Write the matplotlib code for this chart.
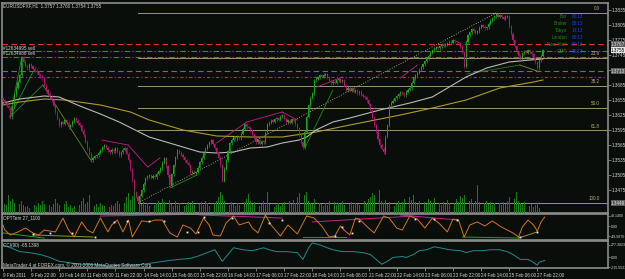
import numpy as np
import matplotlib
matplotlib.use("Agg")
import matplotlib.pyplot as plt
import matplotlib.transforms as mtransforms

plt.rcParams["font.family"] = ["Liberation Sans", "DejaVu Sans"]

W, H = 625, 279
BG = "#0a0e0a"
FRAME = "#8c8c8c"
TXT = "#d4d4d4"

# EURUSDFXF H1 closes, in pips above PRICE_ZERO
PRICE_ZERO = 1.3422
close_pips = [
    233, 228, 222, 217, 199, 221, 243, 258, 270, 283,
    319, 310, 302, 297, 305, 301, 296, 292, 289, 284,
    281, 277, 262, 253, 246, 240, 233, 222, 209, 196,
    183, 189, 186, 193, 188, 179, 183, 190, 197, 192,
    187, 183, 172, 163, 150, 137, 126, 113, 118, 121,
    123, 128, 133, 139, 143, 138, 133, 129, 134, 131,
    137, 130, 123, 129, 134, 137, 126, 113, 95, 73,
    49, 40, 31, 42, 53, 66, 77, 81, 83, 78,
    82, 79, 86, 91, 97, 108, 117, 101, 83, 63,
    85, 103, 119, 133, 128, 124, 119, 113, 108, 103,
    87, 90, 86, 89, 98, 109, 118, 127, 136, 143,
    149, 153, 145, 137, 129, 118, 103, 72, 96, 113,
    131, 147, 154, 159, 155, 160, 157, 166, 176, 185,
    179, 178, 173, 165, 157, 149, 153, 146, 151, 149,
    168, 185, 188, 192, 190, 195, 197, 194, 200, 203,
    196, 189, 192, 188, 195, 193, 185, 177, 163, 149,
    139, 170, 200, 223, 238, 247, 273, 276, 279, 283,
    280, 284, 285, 278, 272, 267, 270, 268, 273, 275,
    270, 273, 262, 253, 258, 252, 257, 250, 253, 247,
    250, 244, 241, 239, 233, 225, 213, 198, 183, 170,
    155, 143, 136, 129, 160, 183, 223, 228, 232, 237,
    241, 245, 249, 246, 243, 250, 254, 257, 268, 277,
    283, 288, 294, 299, 305, 311, 317, 322, 328, 333,
    336, 339, 337, 341, 344, 342, 345, 347, 350, 348,
    353, 351, 349, 347, 340, 329, 300, 350, 363, 369,
    375, 372, 368, 371, 378, 383, 380, 377, 379, 386,
    392, 397, 401, 405, 400, 403, 399, 396, 400, 401,
    381, 366, 353, 341, 329, 322, 317, 327, 330, 328,
    333, 329, 325, 317, 309, 297, 313, 322, 333,
]

volume = [
    6, 9, 8, 18, 12, 14, 10, 8, 7, 9,
    12, 8, 6, 7, 5, 9, 6, 8, 7, 10,
    8, 12, 9, 7, 11, 8, 6, 9, 14, 10,
    8, 11, 7, 9, 12, 6, 8, 5, 7, 9,
    10, 8, 12, 15, 9, 11, 18, 12, 8, 7,
    9, 6, 10, 8, 7, 9, 11, 6, 8, 7,
    10, 12, 9, 14, 8, 10, 16, 20, 13, 17,
    22, 14, 19, 12, 9, 11, 8, 10, 7, 9,
    6, 8, 10, 12, 9, 14, 11, 16, 10, 13,
    9, 7, 12, 8, 10, 6, 9, 7, 8, 11,
    9, 12, 8, 10, 14, 9, 11, 8, 12, 10,
    7, 9, 13, 10, 12, 16, 21, 18, 12, 15,
    10, 8, 11, 9, 7, 10, 8, 12, 9, 11,
    14, 19, 12, 9, 11, 8, 10, 7, 9, 12,
    8, 21, 9, 7, 11, 6, 8, 10, 7, 9,
    11, 8, 10, 12, 9, 13, 10, 16, 20, 14,
    14, 18, 21, 12, 10, 9, 14, 11, 8, 10,
    9, 7, 10, 8, 12, 9, 7, 11, 8, 10,
    9, 12, 8, 10, 7, 9, 11, 8, 10, 9,
    8, 11, 9, 12, 10, 14, 16, 20, 18, 22,
    15, 23, 12, 10, 13, 9, 11, 8, 10, 7,
    9, 12, 8, 11, 14, 10, 12, 16, 13, 18,
    11, 9, 12, 10, 8, 11, 9, 14, 12, 10,
    15, 26, 12, 10, 8, 11, 9, 13, 10, 8,
    12, 10, 14, 11, 17, 15, 18, 20, 16, 12,
    14, 10, 12, 28, 11, 13, 8, 10, 12, 9,
    11, 8, 10, 9, 7, 10, 8, 11, 9, 12,
    16, 12, 18, 14, 21, 12, 10, 9, 11, 8,
    10, 7, 9, 6, 8, 10, 5, 4, 3,
]

# moving averages (sampled points)
gray_ma_bar = [0, 9, 22, 30, 41, 52, 62, 78, 96, 105, 114, 123, 132, 141, 149,
               158, 162, 167, 176, 185, 201, 217, 229, 247, 258, 270, 281, 288]
gray_ma_pips = [227, 235, 241, 239, 221, 205, 189, 159, 139, 129, 127, 129, 137, 139, 147,
                153, 159, 173, 189, 197, 213, 227, 239, 279, 297, 309, 313, 315]
gold_ma_bar = [0, 9, 22, 33, 52, 68, 78, 96, 114, 132, 149, 167, 185, 212, 229, 247, 265, 283, 288]
gold_ma_pips = [223, 229, 235, 233, 223, 209, 193, 173, 161, 159, 159, 169, 183, 203, 217, 233, 257, 269, 273]

# fibonacci retracement
fib_start_bar = 72
fib_end_bar = 263
fib_low = 1.3449
fib_high = 1.3829
fib_levels = [0.0, 23.6, 38.2, 50.0, 61.8, 100.0]

# horizontal order / level lines
hlines = [
    (1.3767, "#e03030", (0, (5, 3))),
    (1.3754, "#1c9a1c", (0, (5, 2, 1, 2))),
    (1.3742, "#1c9a1c", (0, (5, 2, 1, 2))),
    (1.3713, "#6e6e6e", (0, (5, 3))),
    (1.3701, "#9030b0", (0, (3, 2, 1, 2))),
]
order_labels = ["#12634995 sell", "#12634988 sell"]

# drawn trend lines: (bar0, pips0, bar1, pips1, color, style)
trend_lines = [
    (3.7, 199, 10.1, 319, "#1f8a1f", "-"),
    (3.7, 199, 16, 289, "#1f8a1f", "-"),
    (3.7, 199, 21.3, 263, "#1f8a1f", "-"),
    (21.3, 263, 47.5, 109, "#5f8a20", "-"),
    (52.8, 153, 66.7, 143, "#c0208a", "-"),
    (66.7, 143, 77.3, 99, "#c0208a", "-"),
    (77.3, 99, 83.7, 117, "#c0208a", "-"),
    (114, 147, 130, 189, "#c0208a", "-"),
    (130, 189, 149, 209, "#c0208a", "-"),
    (149, 209, 157, 193, "#c0208a", "-"),
    (167.5, 259, 181, 279, "#c0208a", "-"),
    (212, 277, 221, 303, "#c0208a", "-"),
    (89, 57, 103.5, 83, "#1f8a1f", "-"),
    (161, 137, 176, 253, "#1f8a1f", "-"),
    (247.5, 285, 275.7, 303, "#1f7a1f", "-"),
    (275.7, 303, 284.8, 291, "#8a8a20", "-"),
]

# OPT oscillator
opt_bar = [0, 1, 4, 8, 12, 16, 19, 22, 28, 32, 35, 38, 42, 45, 48, 52, 56, 58, 61, 64,
           67, 69, 74, 78, 81, 85, 89, 93, 96, 100, 103, 107, 110, 112, 116, 119, 123, 126,
           131, 133, 136, 140, 143, 148, 152, 157, 162, 166, 170, 174, 177, 180, 182, 185,
           188, 190, 195, 198, 203, 206, 210, 213, 217, 221, 225, 229, 233, 237, 240, 243,
           246, 249, 253, 257, 261, 265, 269, 272, 275, 277, 280, 283, 285, 287, 289]
opt_val = [5, -20, -44, -29, -10, -34, -44, -20, -29, 39, -20, -54, 20, -20, -34, 39, -29, 5, 29, -29,
           29, -54, 25, 20, 29, 29, -34, -54, 5, -10, -39, 39, 5, -44, -49, 15, 49, 5,
           20, -10, -34, 54, 5, -49, 5, -39, 49, 39, 0, -54, -49, 0, -20, -44,
           39, 34, -10, -34, 49, 39, -10, -20, 49, 34, -10, 39, 10, -29, 34, 29,
           -54, 5, 20, 0, 25, 0, -20, -34, -54, -5, 29, 5, -25, 20, 44]
opt_lines = [
    (52, 49, 112, 59, "#c0208a"),
    (105, 54, 149, 39, "#c0208a"),
    (165, 20, 219, 49, "#c0208a"),
    (212, 54, 243, 29, "#c0208a"),
    (0, -34, 22, -59, "#20a020"),
    (16, -44, 48, -54, "#8a9a20"),
    (160, -54, 183, -54, "#20a020"),
    (245, -54, 275, -59, "#20a020"),
    (275, -59, 285, -29, "#8a9a20"),
]
opt_mark_bar = [16, 25, 37, 49, 59, 66, 78, 86, 98, 104, 107, 122, 142, 149,
                177, 181, 186, 190, 220, 230, 242, 276, 285]
opt_mark_val = [-39, -34, -34, -54, 20, 25, 25, 25, -29, -29, 44, 39, 15, 29,
                -49, -5, -34, 25, 34, 34, 29, -54, -29]

# CCI
cci_bar = [0, 4, 9, 14, 20, 25, 30, 34, 41, 46, 52, 57, 62, 69, 75, 82, 89, 94, 100, 105,
           109, 113, 117, 120, 123, 128, 133, 139, 142, 146, 151, 157, 160, 163, 165, 169,
           173, 176, 181, 187, 192, 196, 199, 202, 205, 208, 213, 215, 219, 222, 226, 230,
           233, 238, 244, 247, 251, 256, 260, 265, 269, 272, 276, 280, 282, 285, 286, 289]
cci_val = [277, 213, 128, 107, 64, 0, -85, -107, -149, -149, -170, -192, -170, -170, -149, -107,
           -64, -43, -21, 43, 107, 170, -85, 64, 213, 170, 149, 213, 170, 128, 128, 107, -43,
           213, 320, 277, 213, 170, 128, 128, 107, 64, -43, -149, -85, 0, 21, 0, 64, 149,
           170, 234, 213, 170, 149, 107, 149, 149, 170, 170, 128, 64, -43, -43, -85, -170,
           -107, -64]

price_ticks = [1.3475, 1.3505, 1.3535, 1.3565, 1.3595, 1.3625, 1.3655, 1.3685,
               1.3715, 1.3745, 1.3775, 1.3805, 1.3835]
opt_ticks = [49.14, 0, -49.587]
opt_tick_labels = ["49.1400", "0.00", "-49.5870"]
cci_ticks = [277.3823, 0, -215.5523]
cci_tick_labels = ["277.3823", "0.00", "-215.5523"]
time_tick_bars = [0, 15, 30, 45, 60, 75, 90, 105, 120, 135, 150, 165, 180, 195, 210,
                  225, 240, 255, 270, 285]
time_labels = ["9 Feb 2011", "9 Feb 22:00", "10 Feb 14:00", "11 Feb 06:00", "11 Feb 22:00",
               "14 Feb 14:00", "15 Feb 06:00", "15 Feb 22:00", "16 Feb 14:00", "17 Feb 06:00",
               "17 Feb 22:00", "18 Feb 14:00", "21 Feb 06:00", "21 Feb 22:00", "22 Feb 14:00",
               "23 Feb 06:00", "23 Feb 22:00", "24 Feb 14:00", "25 Feb 06:00", "27 Feb 22:00"]
clock_names = ["Bar", "Broker", "Tokyo", "London", "New York", "GMT"]
clock_times = ["00:13", "05:13", "14:13", "05:13", "00:13", "05:13"]

FS = 3.3
FS_SUB = 2.6


def to_price(p):
    return PRICE_ZERO + np.asarray(p, dtype=float) / 10000.0


def px_axes(fig, x0, y0, x1, y1):
    ax = fig.add_axes([x0 / W, 1 - y1 / H, (x1 - x0) / W, (y1 - y0) / H])
    ax.set_facecolor(BG)
    for s in ax.spines.values():
        s.set_color(FRAME)
        s.set_linewidth(1.2)
    return ax


def ptext(fig, x, y, s, **kw):
    kw.setdefault("color", TXT)
    kw.setdefault("fontsize", FS)
    kw.setdefault("va", "center")
    fig.text(x / W, 1 - y / H, s, **kw)


fig = plt.figure(figsize=(W / 100, H / 100), dpi=100, facecolor=BG)

n = len(close_pips)
bars = np.arange(n)
xlim = (-0.5, 322.7)

# ---------------- main price window ----------------
ax = px_axes(fig, 2, 3, 608, 213)
ax.set_xlim(*xlim)
ax.set_ylim(1.3429, 1.3849)

c = to_price(close_pips)
o = np.concatenate([[c[0] + 0.0004], c[:-1]])
hi = np.maximum(o, c) + 0.0003
lo = np.minimum(o, c) - 0.0003
up = c >= o
cols = np.where(up, "#19a519", "#b0166a")

# volume on its own scale at the bottom of the window
axv = ax.twinx()
axv.set_ylim(0, 210)
axv.set_yticks([])
axv.bar(bars, volume, width=0.4, color="#1c7a1c", linewidth=0, zorder=1)
for s in axv.spines.values():
    s.set_visible(False)

# fibonacci
rng = fib_high - fib_low
for lev in fib_levels:
    yv = fib_high - lev / 100.0 * rng
    ax.plot([fib_start_bar, xlim[1]], [yv, yv], color="#9c9670", lw=0.7, zorder=2)
    lab = "%.1f" % lev
    ax.text(318.5, yv + 0.00035, lab, color="#b8b07a", fontsize=FS, ha="right", va="bottom")
ax.plot([fib_start_bar, fib_end_bar], [fib_low, fib_high], color="#c8c8a0", lw=0.6,
        ls=(0, (1, 2)), zorder=2)

for price, col, ls in hlines:
    ax.axhline(price, color=col, lw=0.8, ls=ls, zorder=2)

for b0, p0, b1, p1, col, ls in trend_lines:
    ax.plot([b0, b1], to_price([p0, p1]), color=col, lw=0.6, ls=ls, zorder=3)

ax.plot(gold_ma_bar, to_price(gold_ma_pips), color="#b09a2a", lw=0.8, zorder=4)
ax.plot(gray_ma_bar, to_price(gray_ma_pips), color="#b8b8b8", lw=0.8, zorder=4)

ax.vlines(bars, lo, hi, colors=cols, lw=0.5, zorder=5)
ax.bar(bars, np.maximum(np.abs(c - o), 0.00012), bottom=np.minimum(o, c), width=0.6,
       color=cols, linewidth=0, zorder=6)

ax.set_xticks([])
ax.yaxis.tick_right()
ax.set_yticks(price_ticks)
ax.set_yticklabels(["%.4f" % t for t in price_ticks])
ax.tick_params(axis="y", colors=FRAME, labelcolor=TXT, labelsize=FS, length=2, width=0.6, pad=1)

# boxed price labels on the scale
btr = mtransforms.blended_transform_factory(ax.transAxes, ax.transData)
for price, fc, tc in [(1.3767, "#5a5a5a", "#e0e0e0"), (c[-1], "#e8e8e8", "#000000"),
                      (1.3713, "#5a5a5a", "#e0e0e0"), (fib_low, "#5a5a5a", "#e0e0e0")]:
    ax.text(1.005, price, "%.4f" % price, transform=btr, color=tc, fontsize=FS, va="center",
            ha="left", bbox=dict(boxstyle="square,pad=0.1", fc=fc, ec="none"), zorder=10,
            clip_on=False)

# ---------------- OPT window ----------------
ax2 = px_axes(fig, 2, 214, 608, 240)
ax2.set_xlim(*xlim)
ax2.set_ylim(-68.6, 58.8)
for b0, v0, b1, v1, col in opt_lines:
    ax2.plot([b0, b1], [v0, v1], color=col, lw=0.7)
ax2.plot(opt_bar, opt_val, color="#d2741e", lw=0.7)
ax2.plot(opt_mark_bar, opt_mark_val, ls="none", marker="s", ms=1.3, color="#e8e8e8", mew=0)
ax2.set_xticks([])
ax2.yaxis.tick_right()
ax2.set_yticks(opt_ticks)
ax2.set_yticklabels(opt_tick_labels)
ax2.tick_params(axis="y", colors=FRAME, labelcolor=TXT, labelsize=FS_SUB, length=1.5, width=0.6, pad=0.5)

# ---------------- CCI window ----------------
ax3 = px_axes(fig, 2, 241, 608, 268)
ax3.set_xlim(*xlim)
ax3.set_ylim(-232, 362)
ax3.plot(cci_bar, cci_val, color="#1f8a8f", lw=0.7)
ax3.yaxis.tick_right()
ax3.set_yticks(cci_ticks)
ax3.set_yticklabels(cci_tick_labels)
ax3.tick_params(axis="y", colors=FRAME, labelcolor=TXT, labelsize=FS_SUB, length=1.5, width=0.6, pad=0.5)
ax3.set_xticks(time_tick_bars)
ax3.set_xticklabels(time_labels, ha="left")
ax3.tick_params(axis="x", colors=FRAME, labelcolor=TXT, labelsize=FS, length=2, width=0.6, pad=1.5)

# ---------------- texts ----------------
ptext(fig, 3, 6, "EURUSDFXF,H1  1.3757 1.3760 1.3754 1.3755")
ptext(fig, 3, 48, order_labels[0])
ptext(fig, 3, 53.5, order_labels[1])
for k, (nm, tm) in enumerate(zip(clock_names, clock_times)):
    yy = 17 + 6.8 * k
    ptext(fig, 567, yy, nm, color="#1f8a1f", ha="right")
    ptext(fig, 572, yy, tm, color="#2040e0", ha="left")
ptext(fig, 3, 218, "OPTTem 27_1100")
ptext(fig, 3, 245, "CCI(90) -65.1398")
ptext(fig, 3, 265, "MetaTrader 4 at FOREX.com, \u00a9 2001-2006 MetaQuotes Software Corp.")

fig.savefig("out.png", dpi=100, facecolor=BG)
